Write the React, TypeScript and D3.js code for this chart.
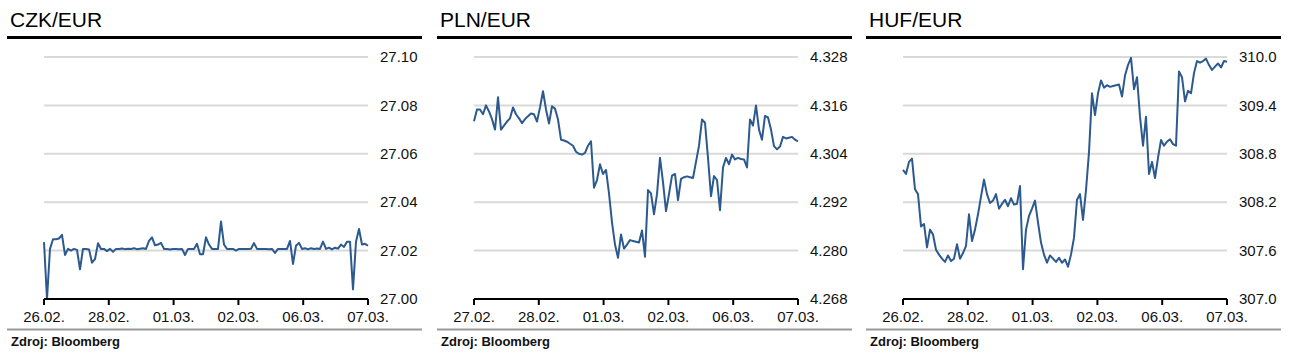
import * as d3 from 'd3';

// intraday fixings, one sample per step, 26.02. – 07.03.
const czkValues = [
  27.0235, 27.0, 27.0207, 27.0247, 27.0247, 27.025, 27.0265, 27.0182, 27.0207, 27.02,
  27.0207, 27.0203, 27.0123, 27.0207, 27.0207, 27.0205, 27.015, 27.0165, 27.023, 27.0207,
  27.0207, 27.0198, 27.0207, 27.0195, 27.0207, 27.0207, 27.0209, 27.0206, 27.0208, 27.0207,
  27.021, 27.0206, 27.0208, 27.021, 27.0207, 27.024, 27.0255, 27.0222, 27.0225, 27.0232,
  27.0207, 27.0207, 27.0205, 27.0207, 27.0207, 27.0206, 27.0207, 27.0182, 27.0207, 27.0207,
  27.0207, 27.0228, 27.0185, 27.0185, 27.0255, 27.0225, 27.0207, 27.0207, 27.0207, 27.032,
  27.0225, 27.0207, 27.0207, 27.0207, 27.02, 27.0207, 27.0207, 27.0207, 27.0207, 27.0208,
  27.0231, 27.0207, 27.0207, 27.0207, 27.0207, 27.0206, 27.0207, 27.019, 27.0207, 27.0207,
  27.0207, 27.0207, 27.024, 27.0145, 27.022, 27.0232, 27.0207, 27.021, 27.0205, 27.021,
  27.0207, 27.0209, 27.0207, 27.0237, 27.0207, 27.0212, 27.0205, 27.0212, 27.0208, 27.0225,
  27.0215, 27.0237, 27.0237, 27.004, 27.0237, 27.0289, 27.0225, 27.0228, 27.022,
];

const plnValues = [
  4.3121, 4.315, 4.315, 4.3138, 4.316, 4.3145, 4.3126, 4.31, 4.318, 4.31,
  4.311, 4.312, 4.3128, 4.3155, 4.3138, 4.3128, 4.3116, 4.3126, 4.3133, 4.314,
  4.3138, 4.312, 4.3155, 4.3195, 4.315, 4.3115, 4.3158, 4.3152, 4.3125, 4.3075,
  4.3073, 4.307, 4.3065, 4.306, 4.3045, 4.304, 4.3038, 4.3042, 4.306, 4.3071,
  4.2956, 4.2975, 4.3014, 4.299, 4.3, 4.2942, 4.287, 4.2815, 4.2782, 4.284,
  4.2805, 4.2815, 4.2826, 4.2824, 4.2822, 4.282, 4.285, 4.2785, 4.295, 4.2942,
  4.289, 4.294, 4.303, 4.297, 4.2898, 4.294, 4.2986, 4.299, 4.2925, 4.2978,
  4.2982, 4.2984, 4.2982, 4.298, 4.302, 4.306, 4.3125, 4.3117, 4.303, 4.2935,
  4.2985, 4.2975, 4.29, 4.3006, 4.303, 4.3014, 4.3038, 4.3026, 4.303, 4.3027,
  4.3026, 4.3006, 4.3125, 4.311, 4.316, 4.31, 4.3075, 4.3134, 4.313, 4.31,
  4.3059, 4.3051, 4.3058, 4.3082, 4.3078, 4.308, 4.3082, 4.3075, 4.3071,
];

const hufValues = [
  308.6, 308.55, 308.7, 308.74, 308.36, 308.3, 307.9, 307.93, 307.64, 307.86,
  307.8, 307.61, 307.55, 307.5, 307.46, 307.54, 307.47, 307.5, 307.68, 307.5,
  307.57, 307.66, 308.05, 307.72, 307.86, 308.05, 308.27, 308.48, 308.3, 308.19,
  308.22, 308.3, 308.12, 308.18, 308.23, 308.15, 308.25, 308.17, 308.18, 308.4,
  307.37, 307.86, 308.03, 308.12, 308.22, 307.95, 307.7, 307.55, 307.45, 307.54,
  307.5, 307.46, 307.51, 307.45, 307.49, 307.4, 307.55, 307.76, 308.23, 308.3,
  307.98, 308.35, 308.82, 309.55, 309.28, 309.55, 309.71, 309.62, 309.65, 309.63,
  309.64, 309.65, 309.66, 309.51, 309.77, 309.9, 309.99, 309.6, 309.75, 309.26,
  308.9, 309.26, 308.55, 308.7, 308.5, 308.75, 308.97, 308.9, 308.95, 308.98,
  308.92, 308.9, 309.82, 309.75, 309.45, 309.58, 309.55, 309.8, 309.95, 309.93,
  309.95, 309.98, 309.9, 309.84, 309.88, 309.92, 309.87, 309.95, 309.94,
];

const czkDates = ['26.02.', '28.02.', '01.03.', '02.03.', '06.03.', '07.03.'];
const plnDates = ['27.02.', '28.02.', '01.03.', '02.03.', '06.03.', '07.03.'];
const hufDates = ['26.02.', '28.02.', '01.03.', '02.03.', '06.03.', '07.03.'];

const czkTicks = [27.0, 27.02, 27.04, 27.06, 27.08, 27.1];
const plnTicks = [4.268, 4.28, 4.292, 4.304, 4.316, 4.328];
const hufTicks = [307.0, 307.6, 308.2, 308.8, 309.4, 310.0];

const FONT = '"Liberation Sans", Arial, sans-serif';
const LINE_COLOR = '#2c5a8f';

function Panel({ left, title, values, dates, ticks, fmt }) {
  const plotLeft = 44;
  const plotRight = 368;
  const top = 57;
  const bottom = 299;

  const x = d3.scaleLinear().domain([0, values.length - 1]).range([plotLeft, plotRight]);
  const xLabels = d3.scalePoint().domain(dates).range([plotLeft, plotRight]);
  const y = d3.scaleLinear().domain([ticks[0], ticks[ticks.length - 1]]).range([bottom, top]);
  const format = d3.format(fmt);

  const line = d3.line<number>()
    .x((_, i) => x(i))
    .y(d => y(d));

  return (
    <g transform={`translate(${left},0)`} fontFamily={FONT}>
      <text x={10} y={27} fontSize={21} fill="#000">{title}</text>
      <rect x={7} y={36} width={415} height={3} fill="#000" />

      {/* gridlines */}
      {ticks.slice(1).map(t => (
        <line key={t} x1={plotLeft} x2={plotRight} y1={y(t)} y2={y(t)} stroke="#d9d9d9" strokeWidth={2} />
      ))}

      {/* y tick labels on the right */}
      {ticks.map(t => (
        <text key={'l' + t} x={380} y={y(t)} dy="0.35em" fontSize={15} fill="#111">{format(t)}</text>
      ))}

      <path d={line(values) || ''} fill="none" stroke={LINE_COLOR} strokeWidth={2} strokeLinejoin="round" />

      {/* x axis */}
      <line x1={plotLeft} x2={plotRight} y1={bottom} y2={bottom} stroke="#000" strokeWidth={2} />
      {dates.map(d => (
        <g key={d} transform={`translate(${xLabels(d)},0)`}>
          <line y1={bottom} y2={bottom + 6} stroke="#000" strokeWidth={2} />
          <text y={bottom + 18} dy="0.35em" textAnchor="middle" fontSize={15} fill="#111">{d}</text>
        </g>
      ))}

      <rect x={7} y={328.5} width={415} height={2} fill="#999" />
      <text x={11} y={346} fontSize={13} fontWeight="bold" fill="#111">Zdroj: Bloomberg</text>
    </g>
  );
}

export default function App() {
  return (
    <svg
      width={1291}
      height={363}
      style={{ position: 'absolute', left: 0, top: 0, background: '#fff' }}
    >
      <Panel left={0} title="CZK/EUR" values={czkValues} dates={czkDates} ticks={czkTicks} fmt=".2f" />
      <Panel left={430} title="PLN/EUR" values={plnValues} dates={plnDates} ticks={plnTicks} fmt=".3f" />
      <Panel left={859} title="HUF/EUR" values={hufValues} dates={hufDates} ticks={hufTicks} fmt=".1f" />
    </svg>
  );
}
